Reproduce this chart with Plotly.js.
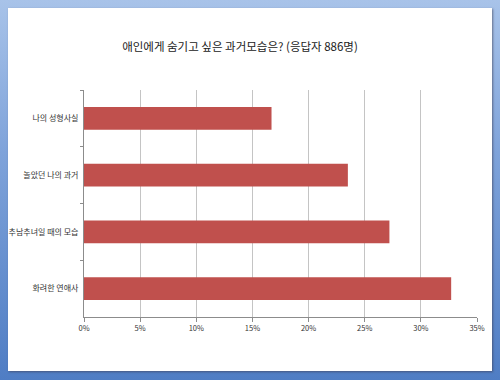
<!DOCTYPE html>
<html>
<head>
<meta charset="utf-8">
<script src="https://cdn.plot.ly/plotly-3.0.1.min.js"></script>
<style>
  html, body { margin: 0; padding: 0; }
  body { width: 500px; height: 380px; overflow: hidden;
         background: linear-gradient(to bottom, #a8c3e9 0%, #7fa3da 40%, #4f7dc4 100%); position: relative; }
  #panel { position: absolute; left: 8px; top: 8px; width: 484px; height: 363px; background: #ffffff;
           box-shadow: 1px 1px 2px rgba(60,60,80,0.6); }
  #chart { position: absolute; left: 0; top: 0; width: 500px; height: 380px; }
</style>
</head>
<body>
<div id="panel"></div>
<div id="chart"></div>
<script>
const categories = ['나의 성형사실', '놀았던 나의 과거', '추남추녀일 때의 모습', '화려한 연애사'];
const shares = [0.167, 0.235, 0.272, 0.327];
const xTickValues = [0, 0.05, 0.10, 0.15, 0.20, 0.25, 0.30, 0.35];
const titleText = '애인에게 숨기고 싶은 과거모습은? (응답자 886명)';

const font = 'Noto Sans CJK KR, Noto Sans, sans-serif';

Plotly.newPlot('chart', [{
  type: 'bar',
  orientation: 'h',
  y: categories,
  x: shares,
  marker: { color: '#c0504d' },
  hoverinfo: 'none'
}], {
  width: 500, height: 380,
  paper_bgcolor: 'rgba(0,0,0,0)',
  plot_bgcolor: 'rgba(0,0,0,0)',
  margin: { l: 84, r: 23, t: 90, b: 63 },
  bargap: 0.595,
  showlegend: false,
  title: { text: titleText, font: { family: font, size: 11.5, color: '#222' },
           x: 0.48, xanchor: 'center', y: 1 - 47/380, yref: 'container', yanchor: 'middle' },
  xaxis: {
    range: [0, 0.35], tickvals: xTickValues, tickformat: '.0%',
    showgrid: true, gridcolor: '#c4c4c4', gridwidth: 1,
    showline: true, linecolor: '#8c8c8c', linewidth: 1,
    ticks: 'outside', ticklen: 4, tickcolor: '#8c8c8c',
    tickfont: { family: font, size: 7.5, color: '#333' },
    zeroline: false, fixedrange: true
  },
  yaxis: {
    autorange: 'reversed', tickson: 'boundaries',
    showline: true, linecolor: '#8c8c8c', linewidth: 1,
    ticks: 'outside', ticklen: 3, tickcolor: '#8c8c8c',
    tickfont: { family: font, size: 8, color: '#333' },
    showgrid: false, zeroline: false, fixedrange: true, ticklabelstandoff: 3
  }
}, { displayModeBar: false, staticPlot: true });
</script>
</body>
</html>
